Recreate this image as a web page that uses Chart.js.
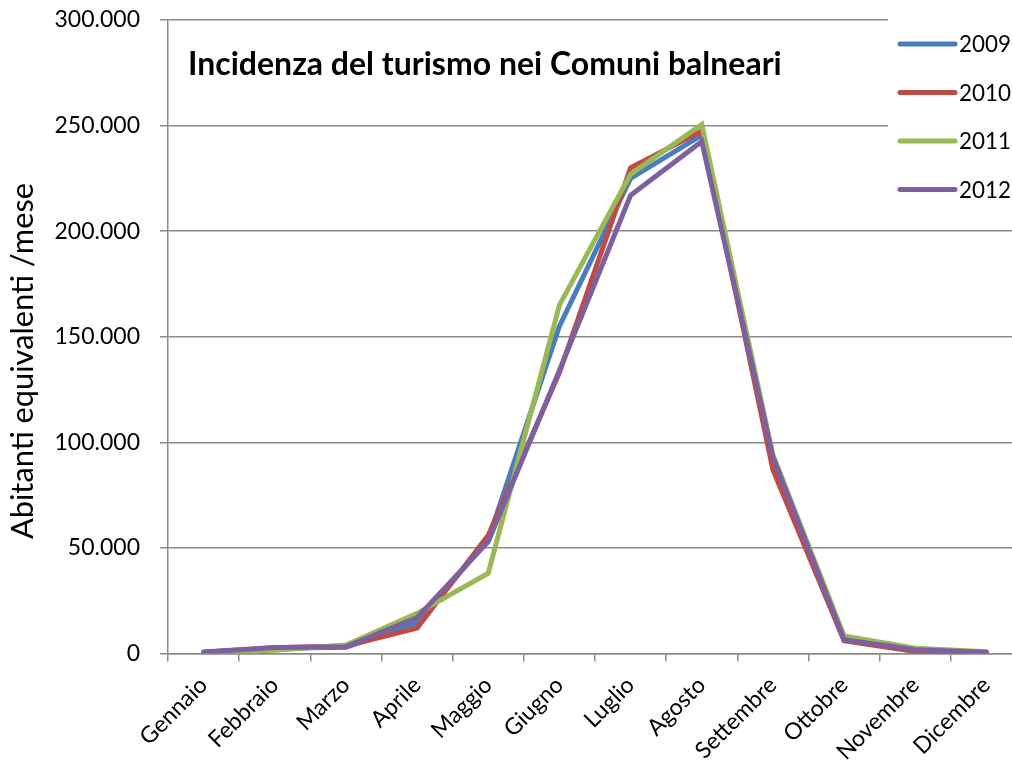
<!DOCTYPE html>
<html>
<head>
<meta charset="utf-8">
<script src="https://cdn.jsdelivr.net/npm/chart.js@4/dist/chart.umd.min.js"></script>
<style>
    html, body { margin: 0; padding: 0; background: #fff; overflow: hidden; }
    #wrap { width: 1022px; height: 767px; }
</style>
</head>
<body>
<div id="wrap"><canvas id="lineChart" width="1022" height="767"></canvas></div>
<script>
// Dati
const mesi = ['Gennaio', 'Febbraio', 'Marzo', 'Aprile', 'Maggio', 'Giugno',
    'Luglio', 'Agosto', 'Settembre', 'Ottobre', 'Novembre', 'Dicembre'];
const anni = ['2009', '2010', '2011', '2012'];
const serie2009 = [600, 2500, 3000, 14500, 54000, 155000, 225000, 245500, 92000, 6500, 1800, 600];
const serie2010 = [600, 2700, 3500, 12000, 56000, 133000, 230000, 247500, 87000, 6000, 1000, 500];
const serie2011 = [500, 1500, 4000, 19000, 38000, 165000, 227000, 250500, 94000, 8300, 2500, 800];
const serie2012 = [700, 2800, 3200, 17000, 53000, 134000, 217000, 242500, 93000, 6500, 1800, 600];
const yTicks = [0, 50000, 100000, 150000, 200000, 250000, 300000];

const colori = ['#4A7EBB', '#BE4B48', '#98B954', '#7D60A0'];
const FONT = "Lato, 'Open Sans', sans-serif";
const GRID = '#8a8a8a';

function fmt(v) {
    return String(v).replace(/\B(?=(\d{3})+(?!\d))/g, '.');
}

// Titolo dentro l'area del grafico, asse Y e legenda
const decorazioni = {
    id: 'decorazioni',
    afterDraw(chart) {
        const ctx = chart.ctx;
        ctx.save();

        // titolo
        const titolo = 'Incidenza del turismo nei Comuni balneari';
        ctx.font = 'bold 26px ' + FONT;
        const size = 26 * 594 / ctx.measureText(titolo).width;
        ctx.font = 'bold ' + size.toFixed(1) + 'px ' + FONT;
        ctx.fillStyle = '#000';
        ctx.textAlign = 'left';
        ctx.textBaseline = 'alphabetic';
        ctx.fillText(titolo, 188, 75);

        // titolo asse Y
        const asse = 'Abitanti equivalenti /mese';
        ctx.font = '27px ' + FONT;
        const s2 = 27 * 356 / ctx.measureText(asse).width;
        ctx.font = s2.toFixed(1) + 'px ' + FONT;
        ctx.translate(23, 361);
        ctx.rotate(-Math.PI / 2);
        ctx.textAlign = 'center';
        ctx.textBaseline = 'middle';
        ctx.fillText(asse, 0, 0);
        ctx.restore();

        // legenda
        ctx.save();
        ctx.fillStyle = '#fff';
        ctx.fillRect(888, 14, 140, 200);
        ctx.font = '23px ' + FONT;
        const s3 = 23 * 52 / ctx.measureText('2009').width;
        ctx.font = s3.toFixed(1) + 'px ' + FONT;
        ctx.textAlign = 'left';
        ctx.textBaseline = 'middle';
        ctx.lineCap = 'round';
        ctx.lineWidth = 5;
        chart.data.datasets.forEach((ds, i) => {
            const y = 44 + i * 48.5;
            ctx.strokeStyle = ds.borderColor;
            ctx.beginPath();
            ctx.moveTo(900, y);
            ctx.lineTo(955, y);
            ctx.stroke();
            ctx.fillStyle = '#000';
            ctx.fillText(ds.label, 959, y + 1);
        });
        ctx.restore();
    }
};

const datiSerie = [serie2009, serie2010, serie2011, serie2012];

new Chart(document.getElementById('lineChart'), {
    type: 'line',
    data: {
        labels: mesi,
        datasets: anni.map((anno, i) => ({
            label: anno,
            data: datiSerie[i],
            borderColor: colori[i],
            backgroundColor: colori[i],
            borderWidth: 5,
            borderCapStyle: 'round',
            borderJoinStyle: 'miter',
            pointRadius: 0,
            tension: 0,
            fill: false,
            order: 4 - i
        }))
    },
    options: {
        responsive: false,
        animation: false,
        devicePixelRatio: 1,
        layout: { autoPadding: false, padding: { top: 20, right: 0, left: 0, bottom: 0 } },
        plugins: {
            legend: { display: false },
            tooltip: { enabled: false },
            title: { display: false }
        },
        scales: {
            x: {
                offset: true,
                grid: {
                    offset: true,
                    drawOnChartArea: false,
                    drawTicks: true,
                    tickLength: 8,
                    color: GRID,
                    lineWidth: 1.5
                },
                border: { display: true, color: GRID, width: 1.5 },
                ticks: {
                    color: '#000',
                    maxRotation: 45,
                    minRotation: 45,
                    padding: 10,
                    autoSkip: false,
                    font: { family: FONT, size: 23 }
                },
                afterFit(scale) {
                    scale.height = 113.5;
                    scale.paddingLeft = 0;
                    scale.paddingRight = 0;
                }
            },
            y: {
                min: 0,
                max: 300000,
                afterBuildTicks(scale) {
                    scale.ticks = yTicks.map(v => ({ value: v }));
                },
                grid: {
                    color: GRID,
                    lineWidth: 1.5,
                    drawTicks: true,
                    tickLength: 8
                },
                border: { display: true, color: GRID, width: 1.5 },
                ticks: {
                    color: '#000',
                    padding: 20,
                    font: { family: FONT, size: 23 },
                    callback: v => fmt(v)
                },
                afterFit(scale) {
                    // il padding delle etichette spingerebbe giù l'area del grafico
                    scale.width = 168;
                    scale.paddingTop = 0;
                    scale.paddingBottom = 0;
                }
            }
        }
    },
    plugins: [decorazioni]
});
</script>
</body>
</html>
